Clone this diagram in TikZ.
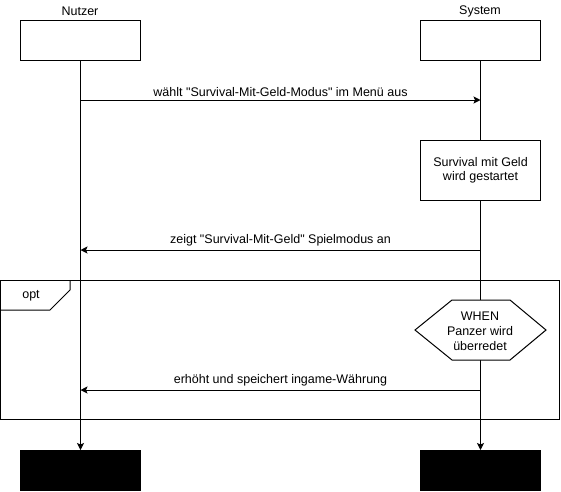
\documentclass[tikz,border=0pt]{standalone}
\usepackage{fontspec}
\setmainfont{Liberation Sans}[Ligatures=TeXOff]
\usetikzlibrary{arrows.meta}
\begin{document}
\begin{tikzpicture}[x=1pt,y=-1pt,font=\fontsize{12.5}{14}\selectfont,
  headbox/.style={draw,line width=1pt,fill=white,minimum width=120pt,minimum height=40pt,inner sep=0pt,anchor=north west},
  endbox/.style={draw,line width=1pt,fill=black,minimum width=120pt,minimum height=40pt,inner sep=0pt,anchor=north west},
  procbox/.style={draw,line width=1pt,fill=white,minimum width=120pt,minimum height=60pt,inner sep=0pt,anchor=north west,align=center},
  lifeline/.style={line width=1pt,-{Stealth[length=7pt,width=7pt,inset=1.5pt]}},
  msg/.style={line width=1pt,-{Stealth[length=7pt,width=7pt,inset=1.5pt]}},
  msglabel/.style={midway,above,inner sep=3pt},
  frame/.style={line width=1pt}]
\useasboundingbox (0,0) rectangle (561,491);
% headers
\node[headbox] (n1) at (20,20) {};
\node[headbox] (s1) at (420,20) {};
\node (nl) at (80,11) {Nutzer};
\node (sl) at (480,11) {System};
% end boxes
\node[endbox] (n2) at (20,450) {};
\node[endbox] (s2) at (420,450) {};
% lifelines
\draw[lifeline] (n1.south) -- (n2.north);
\draw[lifeline] (s1.south) -- (s2.north);
% message 1
\draw[msg] (n1.south |- 0,100) -- (s1.south |- 0,100) node[msglabel] {wählt "Survival-Mit-Geld-Modus" im Menü aus};
% process box
\node[procbox] (p) at (420,140) {Survival mit Geld\\wird gestartet};
% message 2
\draw[msg] (s1.south |- 0,250) -- (n1.south |- 0,250) node[msglabel] {zeigt "Survival-Mit-Geld" Spielmodus an};
% opt frame
\draw[frame] (0.5,280) rectangle (559.5,419.5);
\draw[frame] (0.5,310) -- (50,310) -- (70,290) -- (70,280);
\node (opt) at (31,296) {opt};
% hexagon
\node[inner sep=0pt] (h) at (480,330) {};
\draw[line width=1pt,fill=white] (h.center) ++(-65,0) -- ++(37,-30) -- ++(58,0) -- ++(36,30) -- ++(-36,30) -- ++(-58,0) -- cycle;
\node[align=center,inner sep=0pt,font=\fontsize{12.5}{15}\selectfont] (ht) at (480,331) {WHEN\\Panzer wird\\überredet};
% message 3
\draw[msg] (s1.south |- 0,390) -- (n1.south |- 0,390) node[msglabel] {erhöht und speichert ingame-Währung};
\end{tikzpicture}
\end{document}
